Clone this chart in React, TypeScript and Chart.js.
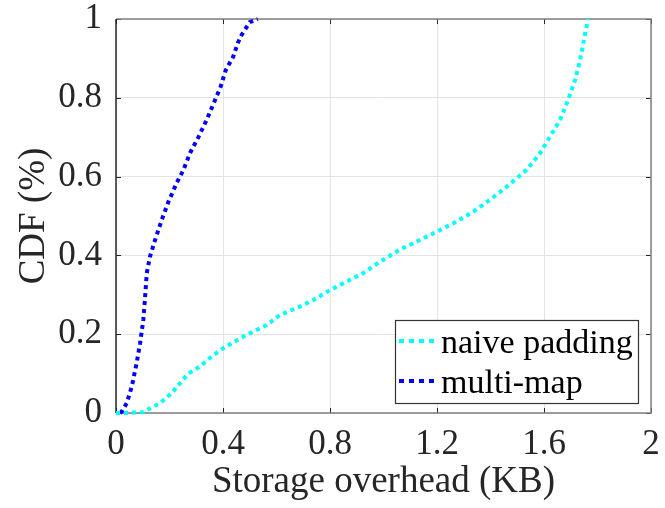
import React, { useEffect, useRef } from 'react';
import { Chart, registerables } from 'chart.js';

Chart.register(...registerables);

// ---- data ----
const seriesNames = ['naive padding', 'multi-map'];
const seriesColors = ['#00FFFF', '#0000FF'];

const naiveX = [0, 0.05, 0.1, 0.164, 0.208, 0.239, 0.27, 0.314, 0.364, 0.4, 0.476, 0.563, 0.613, 0.688, 0.738, 0.8, 0.924, 0.987, 1.06, 1.199, 1.26, 1.336, 1.398, 1.46, 1.535, 1.585, 1.622, 1.66, 1.69, 1.716, 1.735, 1.747, 1.756, 1.762, 1.765];
const naiveY = [0, 0, 0.002, 0.025, 0.05, 0.075, 0.1, 0.118, 0.147, 0.164, 0.194, 0.223, 0.249, 0.27, 0.287, 0.312, 0.355, 0.384, 0.414, 0.46, 0.481, 0.511, 0.541, 0.574, 0.617, 0.659, 0.701, 0.744, 0.794, 0.845, 0.896, 0.938, 0.972, 0.989, 1.0];

const multiX = [0.015, 0.021, 0.04, 0.059, 0.077, 0.09, 0.102, 0.108, 0.115, 0.127, 0.146, 0.171, 0.196, 0.227, 0.252, 0.277, 0.308, 0.339, 0.37, 0.391, 0.41, 0.438, 0.456, 0.47, 0.5, 0.53];
const multiY = [0, 0.003, 0.025, 0.067, 0.126, 0.177, 0.236, 0.287, 0.355, 0.397, 0.439, 0.49, 0.536, 0.584, 0.617, 0.66, 0.7, 0.744, 0.794, 0.828, 0.87, 0.904, 0.94, 0.96, 0.992, 1.0];

const xTickValues = [0, 0.4, 0.8, 1.2, 1.6, 2];
const xTickLabels = ['0', '0.4', '0.8', '1.2', '1.6', '2'];
const yTickValues = [0, 0.2, 0.4, 0.6, 0.8, 1];
const yTickLabels = ['0', '0.2', '0.4', '0.6', '0.8', '1'];

const xTitle = 'Storage overhead (KB)';
const yTitle = 'CDF (%)';

const FONT = '"Liberation Serif", "Times New Roman", serif';
const TEXT = '#262626';
const DASH = [4, 4];

const framePlugin = {
  id: 'frame',
  beforeDatasetsDraw(chart: any) {
    const { ctx, chartArea: a, scales } = chart;
    const L = 5;
    ctx.save();
    ctx.lineWidth = 1;
    ctx.strokeStyle = TEXT;
    ctx.beginPath();
    for (const v of xTickValues) {
      const px = Math.round(scales.x.getPixelForValue(v)) + 0.5;
      ctx.moveTo(px, a.bottom);
      ctx.lineTo(px, a.bottom - L);
      ctx.moveTo(px, a.top);
      ctx.lineTo(px, a.top + L);
    }
    for (const v of yTickValues) {
      const py = Math.round(scales.y.getPixelForValue(v)) + 0.5;
      ctx.moveTo(a.left, py);
      ctx.lineTo(a.left + L, py);
      ctx.moveTo(a.right, py);
      ctx.lineTo(a.right - L, py);
    }
    ctx.stroke();
    // box
    ctx.lineWidth = 1.5;
    ctx.strokeStyle = '#808080';
    ctx.beginPath();
    ctx.moveTo(a.left, a.top);
    ctx.lineTo(a.right, a.top);
    ctx.lineTo(a.right, a.bottom);
    ctx.lineTo(a.left, a.bottom);
    ctx.stroke();
    ctx.strokeStyle = TEXT;
    ctx.beginPath();
    ctx.moveTo(a.left, a.top);
    ctx.lineTo(a.left, a.bottom);
    ctx.stroke();
    ctx.restore();
  },
};

const legendPlugin = {
  id: 'boxLegend',
  afterDraw(chart: any) {
    const { ctx, chartArea: a } = chart;
    const w = 243;
    const h = 83;
    const x0 = a.right - 13 - w;
    const y0 = a.bottom - 10 - h;
    ctx.save();
    ctx.fillStyle = '#ffffff';
    ctx.fillRect(x0, y0, w, h);
    ctx.strokeStyle = '#333333';
    ctx.lineWidth = 1.2;
    ctx.strokeRect(x0 + 0.5, y0 + 0.5, w, h);
    ctx.font = `34px ${FONT}`;
    ctx.textBaseline = 'alphabetic';
    ctx.textAlign = 'left';
    seriesNames.forEach((name, i) => {
      const ly = y0 + 21 + i * 40;
      ctx.strokeStyle = seriesColors[i];
      ctx.lineWidth = 4;
      ctx.setLineDash([5, 5]);
      ctx.beginPath();
      ctx.moveTo(x0 + 4, ly);
      ctx.lineTo(x0 + 41, ly);
      ctx.stroke();
      ctx.setLineDash([]);
      ctx.fillStyle = '#000000';
      ctx.fillText(name, x0 + 46, ly + 12);
    });
    ctx.restore();
  },
};

export default function App() {
  const ref = useRef<HTMLCanvasElement | null>(null);

  useEffect(() => {
    if (!ref.current) return;
    const chart = new Chart(ref.current, {
      type: 'line',
      data: {
        datasets: [
          {
            label: seriesNames[0],
            data: naiveX.map((x, i) => ({ x, y: naiveY[i] })),
            borderColor: seriesColors[0],
            backgroundColor: seriesColors[0],
            borderWidth: 4,
            borderDash: DASH,
            pointRadius: 0,
            tension: 0,
            fill: false,
            clip: 4,
          },
          {
            label: seriesNames[1],
            data: multiX.map((x, i) => ({ x, y: multiY[i] })),
            borderColor: seriesColors[1],
            backgroundColor: seriesColors[1],
            borderWidth: 4,
            borderDash: DASH,
            pointRadius: 0,
            tension: 0,
            fill: false,
            clip: 4,
          },
        ],
      },
      options: {
        responsive: false,
        animation: false,
        events: [],
        layout: { padding: { left: 0, top: 19, right: 14, bottom: 0 } },
        plugins: {
          legend: { display: false },
          tooltip: { enabled: false },
        },
        scales: {
          x: {
            type: 'linear',
            min: 0,
            max: 2,
            afterBuildTicks: (s: any) => {
              s.ticks = xTickValues.map((v) => ({ value: v }));
            },
            afterFit: (s: any) => {
              s.height = 95;
              s.paddingLeft = 0;
              s.paddingRight = 0;
            },
            ticks: {
              autoSkip: false,
              maxRotation: 0,
              padding: 14.5,
              color: TEXT,
              font: { family: FONT, size: 35, lineHeight: 1 },
              callback: (_v: any, i: number) => xTickLabels[i],
            },
            grid: { color: '#e3e3e3', lineWidth: 1, drawTicks: false },
            border: { display: false },
            title: {
              display: true,
              text: xTitle,
              color: TEXT,
              font: { family: FONT, size: 37, lineHeight: 1 },
              padding: { top: 0, bottom: 7 },
            },
          },
          y: {
            type: 'linear',
            min: 0,
            max: 1,
            afterBuildTicks: (s: any) => {
              s.ticks = yTickValues.map((v) => ({ value: v }));
            },
            afterFit: (s: any) => {
              s.width = 116;
              s.paddingTop = 0;
              s.paddingBottom = 0;
            },
            ticks: {
              autoSkip: false,
              padding: 14,
              color: TEXT,
              font: { family: FONT, size: 35, lineHeight: 1 },
              callback: (_v: any, i: number) => yTickLabels[i],
            },
            grid: { color: '#e3e3e3', lineWidth: 1, drawTicks: false },
            border: { display: false },
            title: {
              display: true,
              text: yTitle,
              color: TEXT,
              font: { family: FONT, size: 37, lineHeight: 1 },
              padding: { top: 16, bottom: 0 },
            },
          },
        },
      },
      plugins: [framePlugin, legendPlugin],
    } as any);
    return () => chart.destroy();
  }, []);

  return (
    <div style={{ position: 'fixed', left: 0, top: 0, width: 665, height: 508, background: '#fff' }}>
      <canvas ref={ref} width={665} height={508} style={{ display: 'block' }} />
    </div>
  );
}
